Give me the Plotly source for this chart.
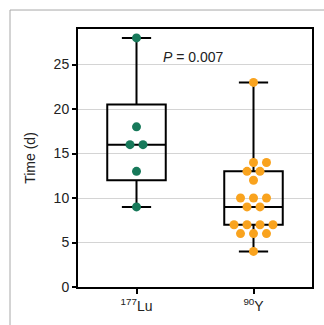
import numpy as np
import plotly.graph_objects as go

# ---- data ----
groups = ["177Lu", "90Y"]
tick_labels = ["<sup>177</sup>Lu", "<sup>90</sup>Y"]
lu_values = [28, 18, 16, 16, 13, 9]
y_values = [23, 14, 14, 13, 13, 12, 10, 10, 10, 9, 9, 7, 7, 7, 7, 6, 6, 6, 4]
q1 = [12, 7]
median = [16, 9]
q3 = [20.5, 13]
lower = [9, 4]
upper = [28, 23]
p_text = "<i>P</i> = 0.007"

colors = ["#17795a", "#f9a31e"]


def swarm_offsets(values, step=0.111, yrad=1.0):
    """Row-centred dot layout: equal values in a row, rows shifted by half a step
    if they would collide with an adjacent (already placed) row."""
    vals = np.asarray(values, dtype=float)
    offs = np.zeros(len(vals))
    placed = []  # (y, x)
    for v in sorted(set(vals)):
        idx = np.where(vals == v)[0]
        k = len(idx)
        base = (np.arange(k) - (k - 1) / 2) * step
        best = None
        for shift in [0, step / 2, -step / 2, step, -step]:
            cand = base + shift
            ok = True
            for (py, px) in placed:
                if abs(py - v) <= yrad:
                    if np.any(np.abs(cand - px) < step / 2 - 1e-9):
                        ok = False
                        break
            if ok:
                best = cand
                break
        if best is None:
            best = base
        offs[idx] = best
        for c in best:
            placed.append((v, c))
    return offs


fig = go.Figure()

fig.add_trace(go.Box(
    x=[0, 1], q1=q1, median=median, q3=q3,
    lowerfence=lower, upperfence=upper,
    boxpoints=False, width=0.5, whiskerwidth=0.5,
    line=dict(color="black", width=2),
    fillcolor="rgba(0,0,0,0)", showlegend=False, hoverinfo="skip",
))

for i, vals in enumerate([lu_values, y_values]):
    offs = swarm_offsets(vals)
    fig.add_trace(go.Scatter(
        x=i + offs, y=vals, mode="markers",
        marker=dict(color=colors[i], size=9, line=dict(width=0)),
        showlegend=False, name=groups[i],
    ))

fig.add_annotation(
    x=0.49, y=25.8, xref="x", yref="y", text=p_text, showarrow=False,
    font=dict(family="Liberation Sans, Arial, sans-serif", size=14, color="#222"),
)

# outer light border of the figure panel
fig.add_shape(type="rect", xref="paper", yref="paper",
              x0=-68 / 234, y0=-1.0, x1=1.5, y1=1 + 19 / 258.3,
              line=dict(color="#a8a8a8", width=1), fillcolor="rgba(0,0,0,0)", layer="below")

fig.update_layout(
    width=324, height=325,
    margin=dict(l=78, r=12, t=29, b=38),
    paper_bgcolor="white", plot_bgcolor="white",
    font=dict(family="Liberation Sans, Arial, sans-serif", size=14, color="#222"),
    xaxis=dict(
        range=[-0.5, 1.5], tickvals=[0, 1], ticktext=tick_labels,
        showline=True, linecolor="black", linewidth=2, mirror=True,
        ticks="outside", ticklen=5, tickwidth=2, tickcolor="black",
        showgrid=False, zeroline=False, fixedrange=True,
    ),
    yaxis=dict(
        range=[0, 29], tickvals=[0, 5, 10, 15, 20, 25],
        showline=True, linecolor="black", linewidth=2, mirror=True,
        ticks="outside", ticklen=4, tickwidth=2, tickcolor="black",
        showgrid=True, gridcolor="#d4d4d4", gridwidth=1, zeroline=False,
        title=dict(text="Time (d)", standoff=15, font=dict(size=14)),
        automargin=False,
    ),
)

fig.write_html(
    "out.html",
    config={"displayModeBar": False},
    post_script="document.body.style.margin='0';document.body.style.overflow='hidden';",
)
